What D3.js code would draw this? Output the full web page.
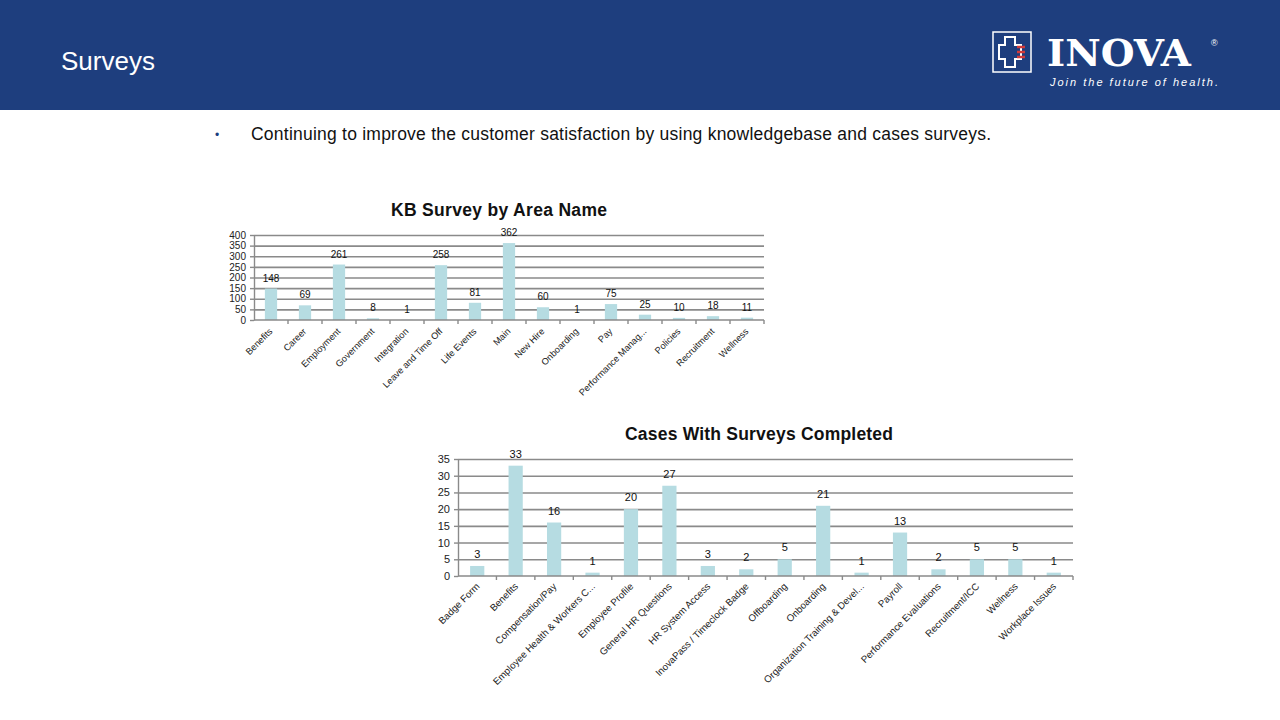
<!DOCTYPE html>
<html>
<head>
<meta charset="utf-8">
<script src="https://cdn.jsdelivr.net/npm/d3@7"></script>
<style>
  body { margin: 0; background: #fff; }
  svg { display: block; font-family: "Liberation Sans", Arial, sans-serif; }
  .grid line { stroke: #8a8a8a; stroke-width: 1.6; }
  .grid path { display: none; }
  .axis path, .axis line { stroke: #8a8a8a; stroke-width: 1.4; }
  .axis text { fill: #222; }
</style>
</head>
<body>
<div id="page"></div>
<script>
// KB survey data
var kbAreas = ["Benefits", "Career", "Employment", "Government", "Integration",
  "Leave and Time Off", "Life Events", "Main", "New Hire", "Onboarding", "Pay",
  "Performance Manag...", "Policies", "Recruitment", "Wellness"];
var kbCounts = [148, 69, 261, 8, 1, 258, 81, 362, 60, 1, 75, 25, 10, 18, 11];
var kbTicks = [0, 50, 100, 150, 200, 250, 300, 350, 400];

// Cases data
var caseAreas = ["Badge Form", "Benefits", "Compensation/Pay", "Employee Health & Workers C...",
  "Employee Profile", "General HR Questions", "HR System Access", "InovaPass / Timeclock Badge",
  "Offboarding", "Onboarding", "Organization Training & Devel...", "Payroll",
  "Performance Evaluations", "Recruitment/ICC", "Wellness", "Workplace Issues"];
var caseCounts = [3, 33, 16, 1, 20, 27, 3, 2, 5, 21, 1, 13, 2, 5, 5, 1];
var caseTicks = [0, 5, 10, 15, 20, 25, 30, 35];

var width = 1280, height = 720;
var svg = d3.select("#page").append("svg")
  .attr("width", width)
  .attr("height", height);

// Header band
svg.append("rect").attr("x", 0).attr("y", 0).attr("width", width).attr("height", 110)
  .attr("fill", "#1e3e7e");
svg.append("text").attr("x", 61).attr("y", 70).attr("fill", "#fff")
  .attr("font-size", 26).text("Surveys");

// Logo
var logo = svg.append("g").attr("transform", "translate(993,32)");
logo.append("rect").attr("width", 38).attr("height", 40)
  .attr("fill", "none").attr("stroke", "#fff").attr("stroke-width", 1.5);
logo.append("path")
  .attr("d", "M12,5 H22 V13 H28 V27 H22 V35 H12 V27 H6 V13 H12 Z")
  .attr("fill", "none").attr("stroke", "#fff").attr("stroke-width", 2);
[15, 20, 25].forEach(function(yy) {
  logo.append("line").attr("x1", 24).attr("x2", 32).attr("y1", yy).attr("y2", yy)
    .attr("stroke", "#d33a3a").attr("stroke-width", 2.5);
});
svg.append("text").attr("x", 1047).attr("y", 66).attr("fill", "#fff")
  .attr("font-family", "'DejaVu Serif', serif").attr("font-weight", "bold")
  .attr("font-size", 38).attr("textLength", 144).attr("lengthAdjust", "spacingAndGlyphs")
  .text("INOVA");
svg.append("text").attr("x", 1211).attr("y", 46).attr("fill", "#fff")
  .attr("font-size", 9).text("®");
svg.append("text").attr("x", 1050).attr("y", 86).attr("fill", "#fff")
  .attr("font-style", "italic").attr("font-size", 11)
  .attr("textLength", 168).text("Join the future of health.");

// Bullet line
svg.append("text").attr("x", 215).attr("y", 139).attr("fill", "#1d3e7e")
  .attr("font-size", 12).text("•");
svg.append("text").attr("x", 251).attr("y", 140).attr("fill", "#111")
  .attr("font-size", 17.5).attr("textLength", 740)
  .text("Continuing to improve the customer satisfaction by using knowledgebase and cases surveys.");

// Generic bar chart
function barChart(opts) {
  var g = svg.append("g");

  g.append("text")
    .attr("x", opts.titleX).attr("y", opts.titleY)
    .attr("text-anchor", "middle").attr("font-weight", "bold")
    .attr("font-size", 17.5).attr("fill", "#111")
    .attr("textLength", opts.titleLen)
    .text(opts.title);

  var xScale = d3.scaleBand()
    .domain(opts.cats)
    .range([opts.x0, opts.x1])
    .paddingInner(opts.pad)
    .paddingOuter(opts.pad / 2);

  var yScale = d3.scaleLinear()
    .domain([0, d3.max(opts.ticks)])
    .range([opts.y0, opts.y1]);

  // gridlines
  g.append("g").attr("class", "grid")
    .attr("transform", "translate(" + opts.x0 + ",0)")
    .call(d3.axisLeft(yScale).tickValues(opts.ticks.slice(1))
      .tickSize(-(opts.x1 - opts.x0)).tickFormat(""));

  // bars
  g.selectAll("rect.bar").data(opts.vals).enter().append("rect")
    .attr("class", "bar")
    .attr("x", function(d, i) { return xScale(opts.cats[i]); })
    .attr("width", xScale.bandwidth())
    .attr("y", function(d) { return yScale(d); })
    .attr("height", function(d) { return opts.y0 - yScale(d); })
    .attr("fill", "#b6dce2");

  // value labels
  g.selectAll("text.val").data(opts.vals).enter().append("text")
    .attr("class", "val")
    .attr("x", function(d, i) { return xScale(opts.cats[i]) + xScale.bandwidth() / 2; })
    .attr("y", function(d) { return yScale(d) - opts.labelGap; })
    .attr("text-anchor", "middle")
    .attr("font-size", opts.fs).attr("fill", "#111")
    .text(function(d) { return d; });

  // y axis
  var yAx = g.append("g").attr("class", "axis")
    .attr("transform", "translate(" + opts.x0 + ",0)")
    .call(d3.axisLeft(yScale).tickValues(opts.ticks).tickSize(4).tickSizeOuter(0).tickPadding(4));
  yAx.selectAll("text").attr("font-size", opts.fs).attr("font-family", "Liberation Sans, Arial, sans-serif");

  // x axis line + boundary ticks
  var step = xScale.step();
  var xb = g.append("g").attr("class", "axis");
  xb.append("line").attr("x1", opts.x0).attr("x2", opts.x1)
    .attr("y1", opts.y0).attr("y2", opts.y0);
  opts.cats.forEach(function(c, i) {
    var bx = xScale(c) - step * opts.pad / 2 + step;
    xb.append("line").attr("x1", bx).attr("x2", bx)
      .attr("y1", opts.y0).attr("y2", opts.y0 + 4);
  });

  // rotated category labels
  g.selectAll("text.cat").data(opts.cats).enter().append("text")
    .attr("class", "cat")
    .attr("transform", function(d) {
      var cx = xScale(d) + xScale.bandwidth() / 2 + opts.labelDx;
      return "translate(" + cx + "," + (opts.y0 + opts.labelDy) + ") rotate(-45)";
    })
    .attr("text-anchor", "end")
    .attr("font-size", opts.catFs).attr("fill", "#222")
    .text(function(d) { return d; });
}

barChart({
  title: "KB Survey by Area Name", titleX: 499, titleY: 216, titleLen: 216,
  cats: kbAreas, vals: kbCounts, ticks: kbTicks,
  x0: 254, x1: 764, y0: 320, y1: 235, pad: 0.64,
  fs: 10, catFs: 9.2, labelGap: 7, labelDx: 2, labelDy: 12
});

barChart({
  title: "Cases With Surveys Completed", titleX: 759, titleY: 440, titleLen: 268,
  cats: caseAreas, vals: caseCounts, ticks: caseTicks,
  x0: 458, x1: 1073, y0: 576, y1: 459, pad: 0.63,
  fs: 11, catFs: 9.7, labelGap: 8, labelDx: 3, labelDy: 11
});
</script>
</body>
</html>
